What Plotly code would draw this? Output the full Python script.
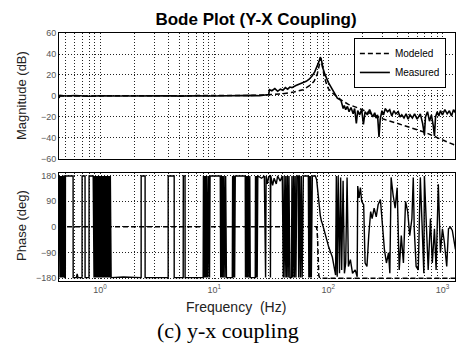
import plotly.graph_objects as go

# ---------------- data ----------------
# Magnitude (dB) vs frequency (Hz)
MAG_MODELED = [(0.437, 0), (1, 0), (10, 0.1), (20, 0.5), (30, 1.2), (40, 2.2), (50, 3.8), (60, 6),
               (70, 10.5), (75, 14), (80, 21), (83, 28), (85, 34), (86, 36), (87, 33), (89, 26),
               (92, 19), (96, 12), (100, 7), (108, 3), (120, -1), (130, -4), (150, -8), (188, -12),
               (250, -18), (303, -22), (400, -26), (520, -30), (720, -35), (960, -41), (1300, -47)]

MAG_MEASURED = [(0.437, -2), (0.445, 0.5), (0.5, 0), (0.6, 0.4), (0.8, -0.2), (1.0, 0.3), (1.5, 0),
                (2, 0.3), (3, 0), (4, 0.3), (5, -0.1), (7, 0.3), (10, 0), (14, 0.4), (18, 0.1),
                (22, 0.6), (25, 0.3), (28, 1.2), (30, 1.5), (30.5, 6), (32, 5), (34, 7), (36, 4.5),
                (38, 6.5), (40, 5.5), (42, 8), (44, 6.5), (46, 8.5), (48, 8), (52, 10), (56, 11.5),
                (60, 12.5), (64, 14), (68, 16), (72, 19), (76, 23), (80, 28), (83, 33), (85, 37),
                (86, 36), (87.5, 33), (88, 30), (90, 26), (93, 21), (96, 17), (100, 13), (105, 9),
                (110, 5), (115, 1), (120, -2), (129, -4), (132, -8), (135, -12), (138, -9),
                (142, -13), (147, -10), (152, -15), (158, -11), (165, -17), (170, -12), (176, -26),
                (181, -14), (188, -18), (196, -13), (203, -27), (210, -15), (220, -18), (230, -13),
                (245, -20), (255, -16), (262, -21), (270, -18), (278, -39), (285, -22), (295, -14),
                (305, -18), (315, -12), (330, -15), (345, -13), (360, -19), (375, -14), (390, -17),
                (410, -15), (425, -20), (440, -18), (460, -21), (480, -17), (500, -22), (520, -18),
                (545, -21), (570, -17), (600, -22), (640, -17), (670, -26), (695, -37), (710, -20),
                (740, -15), (770, -24), (800, -18), (830, -28), (851, -38), (870, -20), (900, -15),
                (930, -19), (960, -14), (1000, -18), (1050, -13), (1100, -17), (1150, -14),
                (1200, -19), (1250, -13), (1300, -16)]

# Phase (deg) vs frequency (Hz)
PHASE_MODELED = [(0.437, 0), (79, 0), (80.5, -40), (81.5, -120), (82.5, -170), (84, -180), (1300, -180)]

PHASE_MEASURED = [
    (0.437, 178), (0.439, -178), (0.442, 178), (0.445, -178), (0.448, 178), (0.451, -178), (0.454, 178),
    (0.457, -178), (0.460, 178), (0.463, -178), (0.466, 178), (0.469, -178), (0.472, 178), (0.475, -178),
    (0.478, 178), (0.481, -178), (0.484, 178),
    (0.490, 178), (0.491, -178), (0.496, -178), (0.497, 178),
    (0.580, 178), (0.581, -178), (0.620, -178), (0.630, -165), (0.640, -178), (0.695, -178), (0.696, 178),
    (0.738, 178), (0.739, -178), (0.800, -178), (0.801, 178), (0.870, 178),
    (0.872, -178), (0.878, 178), (0.885, -178), (0.892, 178), (0.900, -178), (0.910, 178), (0.920, -178),
    (0.930, 178), (0.940, -178), (0.950, 178),
    (0.960, -178), (0.970, 178), (0.980, -178), (0.990, 178), (1.000, -178), (1.010, 178), (1.020, -178),
    (1.030, 178), (1.040, -178), (1.050, 178), (1.060, -178), (1.070, 178), (1.080, -178), (1.090, 178),
    (1.100, -178), (1.110, 178), (1.120, -178), (1.130, 178), (1.140, -178), (1.150, 178), (1.160, -178),
    (1.170, 178), (1.180, -178), (1.190, 178), (1.200, -178), (1.210, 178), (1.220, -178), (1.230, 178),
    (1.250, -178),
    (1.60, -176), (2.29, -178), (2.291, 178), (2.48, 178), (2.481, -178), (3.95, -178), (3.951, 178),
    (4.46, 178), (4.461, -178), (5.35, -178), (5.36, 178), (5.55, 178), (5.56, -178), (8.00, -178),
    (8.05, 178), (8.15, -178), (8.25, 178), (8.35, -178), (8.45, 178), (8.55, -178), (8.65, 178),
    (8.80, -178), (8.95, 178), (9.10, -178), (9.20, 178), (11.3, 178),
    (11.4, -178), (11.55, 178), (11.7, -178), (11.85, 178), (12.0, -178), (12.2, 178), (12.4, -178),
    (12.6, 178), (12.8, -178), (14.4, -178),
    (14.5, 178), (14.7, -178), (14.9, 178), (15.1, -178), (15.3, 178), (18.7, 178),
    (18.8, -178), (19.0, 178), (19.2, -178), (19.4, 178), (19.6, -178), (19.9, 178), (20.2, -178),
    (20.5, 178), (20.7, -178), (22.9, -178),
    (23.0, 178), (23.2, -178), (23.5, 178), (23.8, -178), (24.1, 178), (26.0, 170), (27.5, 178),
    (28.2, -178), (28.5, 178), (29.2, 150), (30.0, 175), (31.0, 178), (31.1, -178), (31.3, 178),
    (32.5, 145), (33.5, 170), (35.0, 150), (36.0, 178), (37.9, 160), (39.5, 178),
    (40.3, -178), (41.0, 178), (41.7, -178), (42.4, 178), (43.1, -178), (43.8, 178), (44.5, -178),
    (45.2, 178), (46.0, -178), (47.5, -178), (48.0, 178), (48.8, -178), (49.6, 178), (50.4, -178),
    (51.2, 178), (52.0, -178), (53.0, 178), (54.5, 178), (55.0, -178), (56.0, 178), (57.0, -178),
    (58.0, 178), (59.0, -178), (60.4, 178), (66.8, 178),
    (67.5, -178), (68.3, 178), (69.0, -178), (70.0, 178), (71.0, -178), (72.4, 178), (77.0, 178),
    (79, 165), (81, 120), (83, 75), (85, 40), (87, 20), (88.6, 11),
    (94.7, -31), (101.1, -73), (108.4, -106), (113, -151), (115.8, -169), (117.5, 178), (119.6, -175),
    (122, 178), (125.3, -163), (128.2, 173), (130.9, -151), (134.7, 161), (138.4, -163), (142, -127),
    (146, 173), (150, -139), (156, -115), (163, -163), (172, -151), (179, -175), (181, 143), (186, 101),
    (191, 137), (196, 89), (204, 77), (210, -127), (218, -139), (226, -31), (235, 53), (242, 29),
    (252, 65), (263, 35), (273, 77), (286, 95), (297, 17), (310, -79), (323, -127), (337, -91),
    (346, -163), (355, 173), (369, 113), (385, 65), (401, 137), (418, -151), (436, -31), (455, -127),
    (475, 89), (496, 53), (517, -31), (540, 29), (555, 173), (566, -7), (588, -139), (614, -151),
    (640, 173), (668, -31), (687, -163), (695, 178), (720, 41), (750, -151), (785, 29), (815, -127),
    (851, -7), (880, -151), (920, 149), (960, -91), (1000, -7), (1040, -55), (1090, -139), (1130, -7),
    (1175, -1), (1220, -13), (1270, -55), (1300, -79)]

X_TICKVALS = [1, 10, 100, 1000]
X_TICKTEXT = ["10<sup>0</sup>", "10<sup>1</sup>", "10<sup>2</sup>", "10<sup>3</sup>"]
X_MINOR = [0.5, 0.6, 0.7, 0.8, 0.9, 2, 3, 4, 5, 6, 7, 8, 9, 20, 30, 40, 50, 60, 70, 80, 90,
           200, 300, 400, 500, 600, 700, 800, 900]
MAG_TICKS = [-60, -40, -20, 0, 20, 40, 60]
PHASE_TICKS = [-180, -90, 0, 90, 180]


def split(pts):
    return [p[0] for p in pts], [p[1] for p in pts]


fig = go.Figure()
fx, fy = split(MAG_MODELED)
fig.add_trace(go.Scatter(x=fx, y=fy, mode="lines", name="Modeled",
                         line=dict(color="black", width=1.5, dash="5px,3px"), xaxis="x", yaxis="y"))
fx, fy = split(MAG_MEASURED)
fig.add_trace(go.Scatter(x=fx, y=fy, mode="lines", name="Measured",
                         line=dict(color="black", width=1.6), xaxis="x", yaxis="y"))
fx, fy = split(PHASE_MODELED)
fig.add_trace(go.Scatter(x=fx, y=fy, mode="lines", showlegend=False,
                         line=dict(color="black", width=1.5, dash="5px,3px"), xaxis="x2", yaxis="y2"))
fx, fy = split(PHASE_MEASURED)
fig.add_trace(go.Scatter(x=fx, y=fy, mode="lines", showlegend=False,
                         line=dict(color="black", width=1.4), xaxis="x2", yaxis="y2"))

GRID = dict(showgrid=True, gridcolor="#222", gridwidth=1, griddash="1px,2px")
TICKFONT = dict(family="Liberation Sans, Arial, sans-serif", size=9, color="#555")
common_x = dict(type="log", range=[-0.36, 3.11], showline=True, mirror=True, linecolor="black",
                linewidth=1, zeroline=False, tickvals=X_TICKVALS, ticks="",
                minor=dict(tickvals=X_MINOR, showgrid=True, gridcolor="#222", gridwidth=1,
                           griddash="1px,2px"), **GRID)

fig.update_layout(
    width=456, height=348,
    margin=dict(l=59, r=1, t=33, b=67),
    paper_bgcolor="white", plot_bgcolor="white",
    font=dict(family="Liberation Sans, Arial, sans-serif", color="black"),
    title=dict(text="<b>Bode Plot (Y-X Coupling)</b>", x=256 / 456, xanchor="center",
               y=1 - 19 / 348, yanchor="middle",
               font=dict(size=17, color="black", family="Liberation Sans, Arial, sans-serif")),
    xaxis=dict(domain=[0, 1], anchor="y", showticklabels=False, **common_x),
    xaxis2=dict(domain=[0, 1], anchor="y2", matches="x", ticktext=X_TICKTEXT, tickfont=TICKFONT,
                **common_x),
    yaxis=dict(domain=[0.492, 1], range=[-60, 60], tickvals=MAG_TICKS, tickfont=TICKFONT,
               showline=True, mirror=True, linecolor="black", linewidth=1, zeroline=False,
               ticks="", **GRID),
    yaxis2=dict(domain=[0, 0.435], range=[-190, 188], tickvals=PHASE_TICKS, tickfont=TICKFONT,
                showline=True, mirror=True, linecolor="black", linewidth=1, zeroline=False,
                ticks="", **GRID),
    legend=dict(x=0.977, xanchor="right", y=0.98, yanchor="top", bgcolor="white",
                bordercolor="black", borderwidth=1, font=dict(size=10, color="black"),
                tracegroupgap=0, itemwidth=30),
    showlegend=True,
)

ANN = dict(xref="paper", yref="paper", showarrow=False, xanchor="center", yanchor="middle")
fig.add_annotation(text="Magnitude (dB)", x=-0.0934, y=0.746, textangle=-90,
                   font=dict(size=13, color="#222"), **ANN)
fig.add_annotation(text="Phase (deg)", x=-0.0934, y=0.222, textangle=-90,
                   font=dict(size=13, color="#222"), **ANN)
fig.add_annotation(text="Frequency  (Hz)", x=0.447, y=-0.105,
                   font=dict(size=14, color="#222"), **ANN)
fig.add_annotation(text="(c) y-x coupling", x=0.427, y=-0.198,
                   font=dict(size=22, color="black", family="Liberation Serif, Times New Roman, serif"),
                   **ANN)

fig.write_html("out.html")
